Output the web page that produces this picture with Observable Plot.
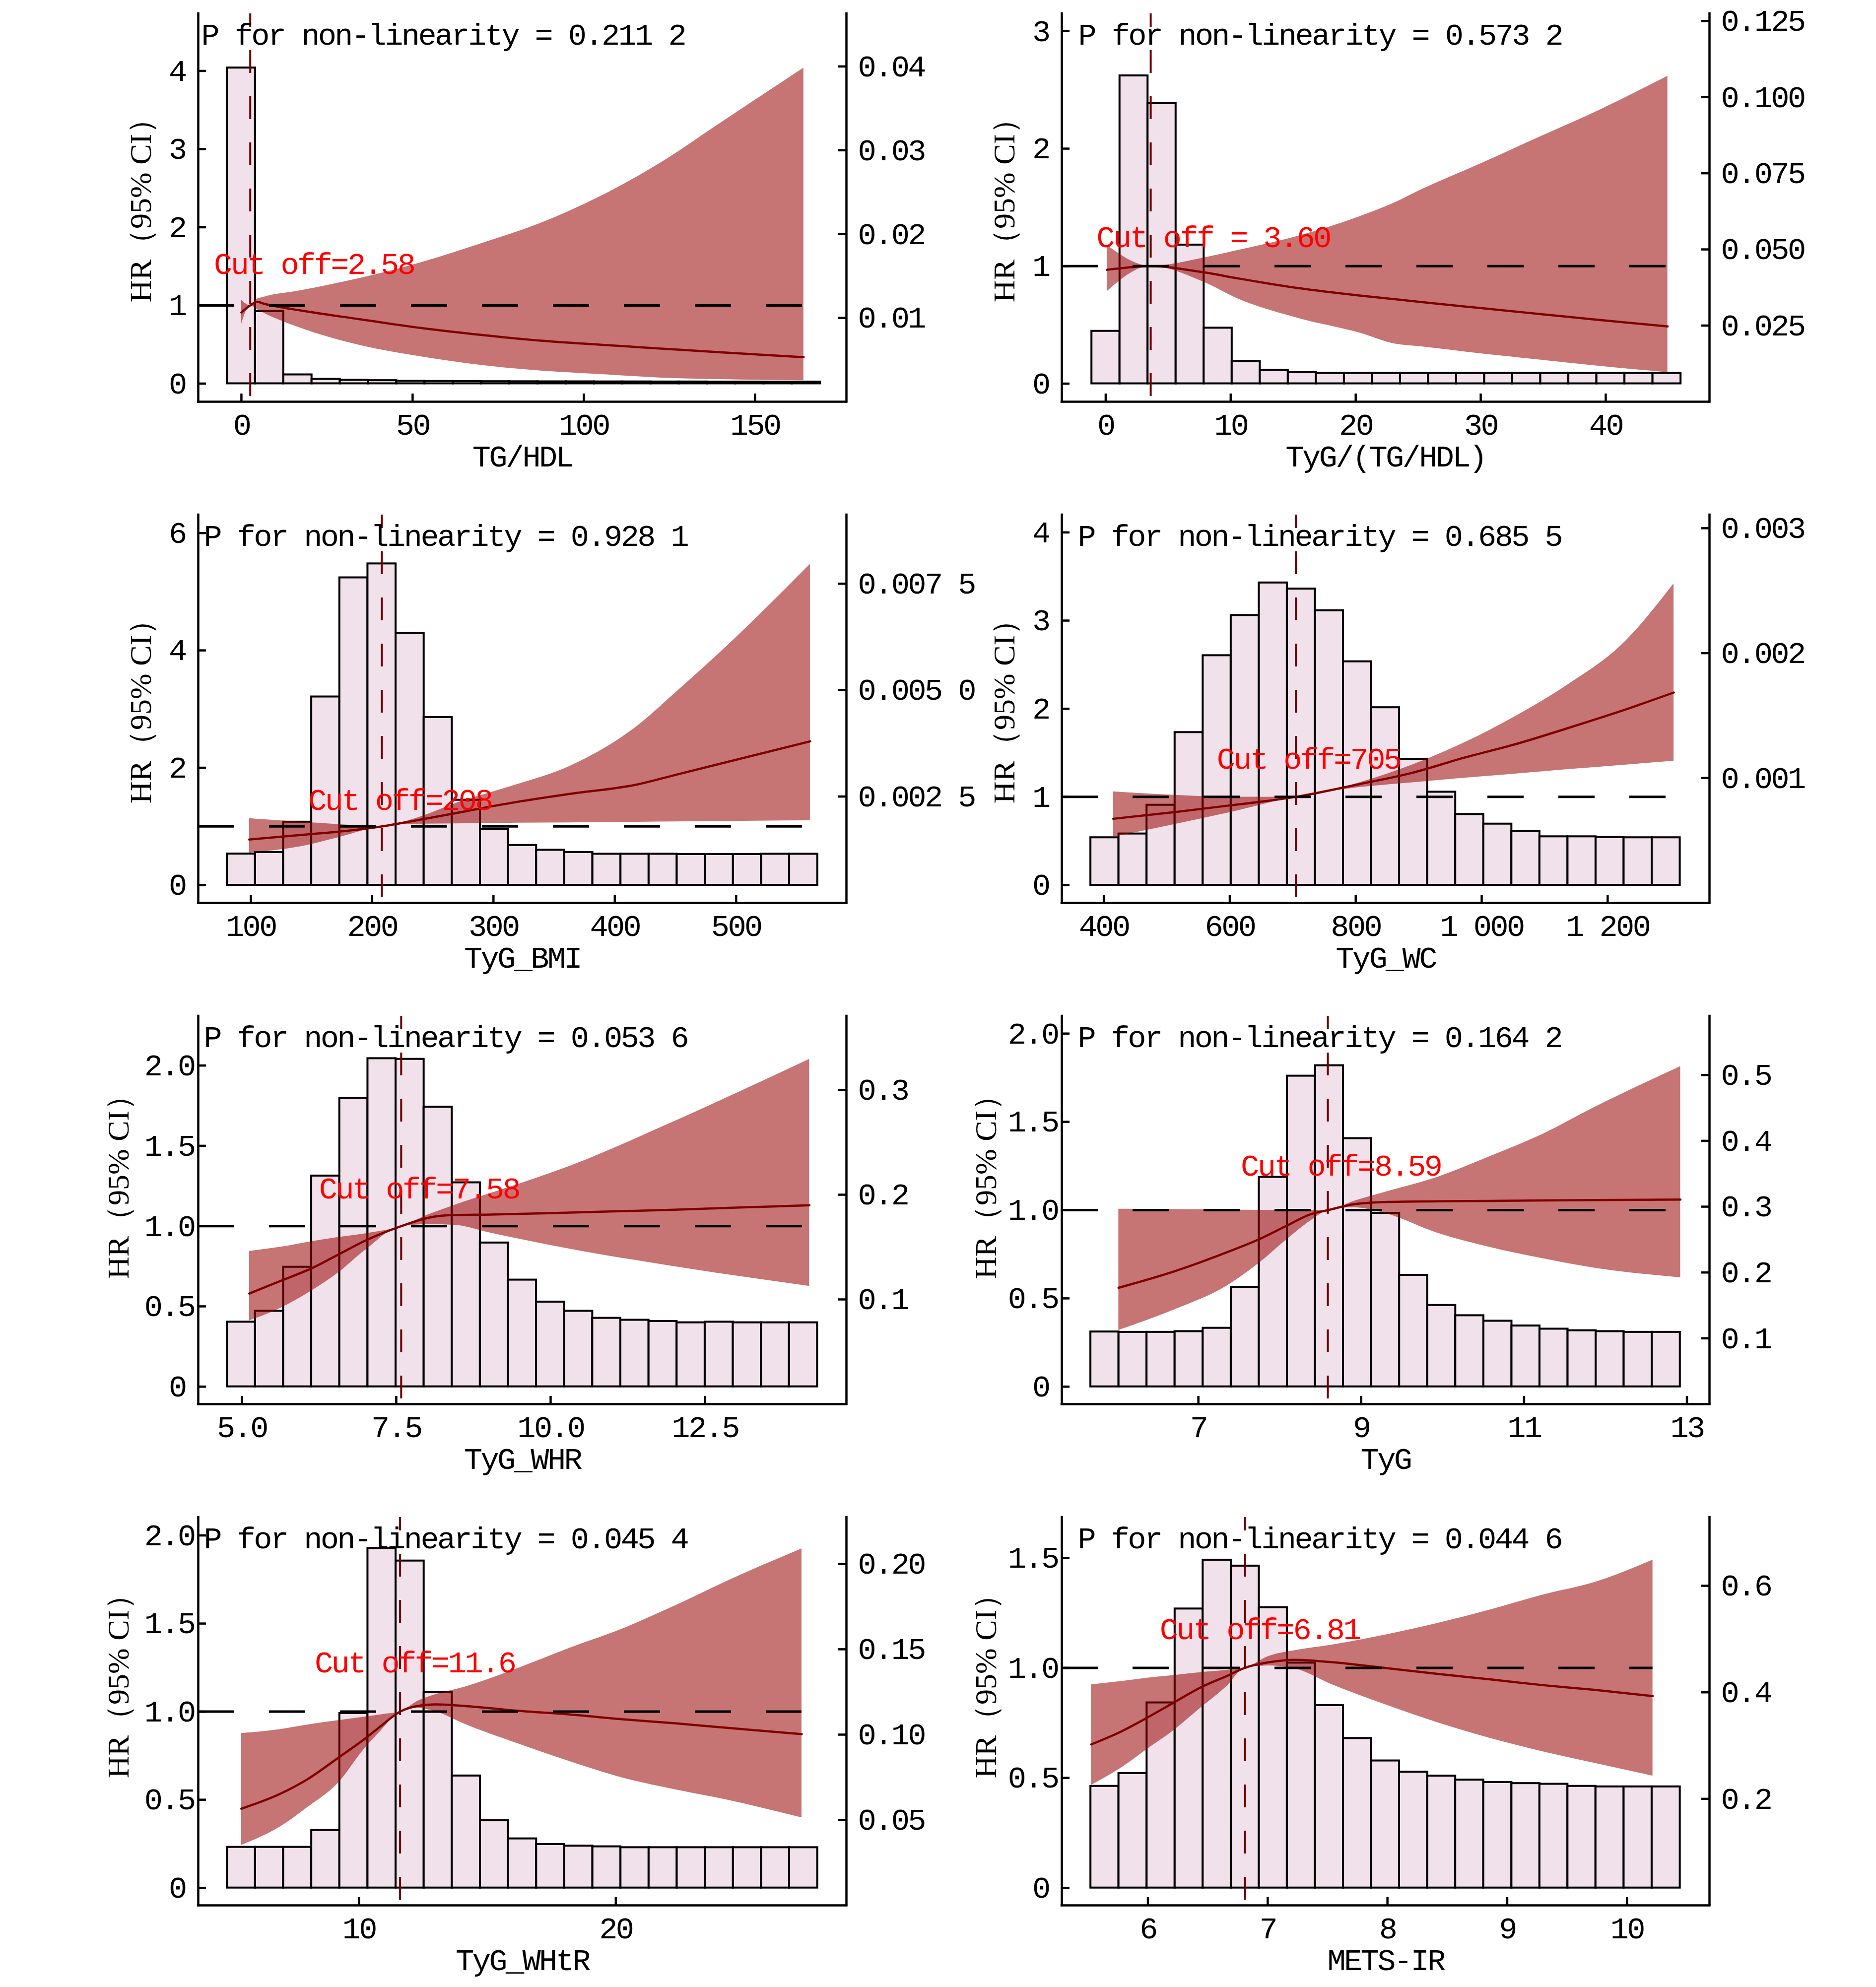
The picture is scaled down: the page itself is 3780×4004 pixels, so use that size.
<!DOCTYPE html>
<html><head><meta charset="utf-8">
<script src="https://cdn.jsdelivr.net/npm/d3@7"></script>
<script src="https://cdn.jsdelivr.net/npm/@observablehq/plot@0.6"></script>
<style>
html,body{margin:0;padding:0;background:#fff;}
#wrap{position:relative;width:3780px;height:4004px;overflow:hidden;background:#fff;}
#wrap > div{position:absolute;}
#wrap svg{overflow:visible;}
#wrap svg text{letter-spacing:-3.6px;}
#wrap svg g[font-family="Liberation Serif"] text{letter-spacing:0;}
</style></head><body><div id="wrap"></div>
<script>
// ---------- Panel 1: TG/HDL ----------
const p1_name = "TG/HDL";
const p1_p = "P for non-linearity = 0.211 2";
const p1_cut = 2.58;
const p1_cutLabel = "Cut off=2.58";
const p1_cutAt = [21.2, 1.526];
const p1_xDomain = [-12.6, 176.7];
const p1_yDomain = [-0.232, 4.733];
const p1_densTop = 0.0463;
const p1_xTicks = [0, 50, 100, 150];
const p1_xLabels = ["0", "50", "100", "150"];
const p1_yTicks = [0, 1, 2, 3, 4];
const p1_yLabels = ["0", "1", "2", "3", "4"];
const p1_dTicks = [0.01, 0.02, 0.03, 0.04];
const p1_dLabels = ["0.01", "0.02", "0.03", "0.04"];
const p1_edges = [-4.2, 4.05, 12.3, 20.55, 28.8, 37.05, 45.3, 53.55, 61.8, 70.05, 78.3, 86.55, 94.8, 103.05, 111.3, 119.55, 127.8, 136.05, 144.3, 152.55, 160.8, 169.05];
const p1_hist = [4.04, 0.924, 0.114, 0.057, 0.045, 0.04, 0.032, 0.03, 0.028, 0.027, 0.026, 0.025, 0.025, 0.024, 0.024, 0.023, 0.023, 0.022, 0.022, 0.022, 0.022];
const p1_x  = [0, 2.58, 4.5, 6.7, 17.2, 34.8, 52.3, 69.9, 87.5, 105, 122.6, 140.1, 164.2];
const p1_hr = [0.91, 1.0, 1.045, 1.02, 0.936, 0.822, 0.712, 0.623, 0.549, 0.497, 0.448, 0.399, 0.338];
const p1_lo = [0.76, 1.0, 0.95, 0.9, 0.712, 0.488, 0.346, 0.236, 0.163, 0.118, 0.073, 0.053, 0.04];
const p1_hi = [1.07, 1.0, 1.08, 1.11, 1.19, 1.35, 1.547, 1.79, 2.055, 2.4, 2.83, 3.34, 4.04];

// ---------- Panel 2: TyG/(TG/HDL) ----------
const p2_name = "TyG/(TG/HDL)";
const p2_p = "P for non-linearity = 0.573 2";
const p2_cut = 3.6;
const p2_cutLabel = "Cut off = 3.60";
const p2_cutAt = [8.6, 1.246];
const p2_xDomain = [-3.51, 48.3];
const p2_yDomain = [-0.154, 3.149];
const p2_densTop = 0.1274;
const p2_xTicks = [0, 10, 20, 30, 40];
const p2_xLabels = ["0", "10", "20", "30", "40"];
const p2_yTicks = [0, 1, 2, 3];
const p2_yLabels = ["0", "1", "2", "3"];
const p2_dTicks = [0.025, 0.05, 0.075, 0.1, 0.125];
const p2_dLabels = ["0.025", "0.050", "0.075", "0.100", "0.125"];
const p2_edges = [-1.12, 1.124, 3.368, 5.612, 7.856, 10.1, 12.344, 14.588, 16.832, 19.076, 21.32, 23.564, 25.808, 28.052, 30.296, 32.54, 34.784, 37.028, 39.272, 41.516, 43.76, 46.004];
const p2_hist = [0.447, 2.621, 2.386, 1.181, 0.474, 0.19, 0.116, 0.095, 0.089, 0.089, 0.089, 0.089, 0.089, 0.089, 0.089, 0.089, 0.089, 0.089, 0.089, 0.089, 0.089];
const p2_x  = [0.1, 3.6, 7.79, 10.67, 15.48, 20.29, 23.17, 25.1, 29.9, 34.7, 39.5, 44.95];
const p2_hr = [0.969, 1.0, 0.948, 0.894, 0.812, 0.75, 0.718, 0.696, 0.644, 0.593, 0.542, 0.487];
const p2_lo = [0.785, 1.0, 0.867, 0.718, 0.555, 0.433, 0.338, 0.317, 0.257, 0.203, 0.149, 0.095];
const p2_hi = [1.178, 1.0, 1.07, 1.137, 1.259, 1.422, 1.543, 1.644, 1.868, 2.099, 2.329, 2.618];

// ---------- Panel 3: TyG_BMI ----------
const p3_name = "TyG_BMI";
const p3_p = "P for non-linearity = 0.928 1";
const p3_cut = 208;
const p3_cutLabel = "Cut off=208";
const p3_cutAt = [223, 1.446];
const p3_xDomain = [56.7, 590.9];
const p3_yDomain = [-0.304, 6.31];
const p3_densTop = 0.009117;
const p3_xTicks = [100, 200, 300, 400, 500];
const p3_xLabels = ["100", "200", "300", "400", "500"];
const p3_yTicks = [0, 2, 4, 6];
const p3_yLabels = ["0", "2", "4", "6"];
const p3_dTicks = [0.0025, 0.005, 0.0075];
const p3_dLabels = ["0.002 5", "0.005 0", "0.007 5"];
const p3_edges = [80.5, 103.67, 126.84, 150.01, 173.18, 196.35, 219.52, 242.69, 265.86, 289.03, 312.2, 335.37, 358.54, 381.71, 404.88, 428.05, 451.22, 474.39, 497.56, 520.73, 543.9, 567.07];
const p3_hist = [0.533, 0.56, 1.076, 3.21, 5.24, 5.478, 4.293, 2.859, 1.45, 0.951, 0.679, 0.598, 0.56, 0.53, 0.53, 0.53, 0.525, 0.525, 0.525, 0.53, 0.53];
const p3_x  = [98.7, 146.3, 168, 208.2, 232.9, 276.2, 297.8, 319.5, 362.8, 419, 449.4, 492.6, 561];
const p3_hr = [0.777, 0.864, 0.902, 1.0, 1.09, 1.255, 1.34, 1.418, 1.554, 1.717, 1.875, 2.098, 2.45];
const p3_lo = [0.549, 0.68, 0.79, 1.0, 1.04, 1.05, 1.055, 1.06, 1.065, 1.075, 1.08, 1.09, 1.1];
const p3_hi = [1.136, 1.07, 1.04, 1.0, 1.12, 1.446, 1.58, 1.717, 2.027, 2.72, 3.27, 4.08, 5.47];

// ---------- Panel 4: TyG_WC ----------
const p4_name = "TyG_WC";
const p4_p = "P for non-linearity = 0.685 5";
const p4_cut = 705;
const p4_cutLabel = "Cut off=705";
const p4_cutAt = [725, 1.43];
const p4_xDomain = [333.3, 1361.7];
const p4_yDomain = [-0.2025, 4.199];
const p4_densTop = 0.003107;
const p4_xTicks = [400, 600, 800, 1000, 1200];
const p4_xLabels = ["400", "600", "800", "1 000", "1 200"];
const p4_yTicks = [0, 1, 2, 3, 4];
const p4_yLabels = ["0", "1", "2", "3", "4"];
const p4_dTicks = [0.001, 0.002, 0.003];
const p4_dLabels = ["0.001", "0.002", "0.003"];
const p4_edges = [379.1, 423.66, 468.22, 512.78, 557.34, 601.9, 646.46, 691.02, 735.58, 780.14, 824.7, 869.26, 913.82, 958.38, 1002.94, 1047.5, 1092.06, 1136.62, 1181.18, 1225.74, 1270.3, 1314.86];
const p4_hist = [0.539, 0.582, 0.908, 1.732, 2.604, 3.06, 3.429, 3.36, 3.114, 2.535, 2.014, 1.429, 1.056, 0.803, 0.694, 0.611, 0.55, 0.55, 0.542, 0.539, 0.539];
const p4_x  = [415, 512.6, 596, 704.4, 804.5, 887.9, 971.3, 1054.7, 1138, 1221.5, 1305];
const p4_hr = [0.752, 0.828, 0.9, 1.0, 1.143, 1.27, 1.443, 1.6, 1.783, 1.975, 2.184];
const p4_lo = [0.546, 0.69, 0.817, 1.0, 1.107, 1.161, 1.215, 1.262, 1.313, 1.36, 1.407];
const p4_hi = [1.06, 1.02, 0.998, 1.0, 1.16, 1.36, 1.613, 1.92, 2.28, 2.72, 3.42];

// ---------- Panel 5: TyG_WHR ----------
const p5_name = "TyG_WHR";
const p5_p = "P for non-linearity = 0.053 6";
const p5_cut = 7.58;
const p5_cutLabel = "Cut off=7.58";
const p5_cutAt = [7.87, 1.235];
const p5_xDomain = [4.294, 14.79];
const p5_yDomain = [-0.109, 2.308];
const p5_densTop = 0.3706;
const p5_xTicks = [5, 7.5, 10, 12.5];
const p5_xLabels = ["5.0", "7.5", "10.0", "12.5"];
const p5_yTicks = [0, 0.5, 1, 1.5, 2];
const p5_yLabels = ["0", "0.5", "1.0", "1.5", "2.0"];
const p5_dTicks = [0.1, 0.2, 0.3];
const p5_dLabels = ["0.1", "0.2", "0.3"];
const p5_edges = [4.762, 5.217, 5.672, 6.127, 6.582, 7.038, 7.493, 7.948, 8.403, 8.858, 9.313, 9.768, 10.223, 10.678, 11.133, 11.589, 12.044, 12.499, 12.954, 13.409, 13.864, 14.319];
const p5_hist = [0.403, 0.471, 0.745, 1.313, 1.797, 2.044, 2.04, 1.742, 1.271, 0.896, 0.665, 0.528, 0.471, 0.427, 0.415, 0.407, 0.399, 0.403, 0.399, 0.399, 0.399];
const p5_x  = [5.12, 5.63, 6.14, 6.56, 6.99, 7.585, 8.01, 8.435, 9.03, 10.31, 12.0, 14.19];
const p5_hr = [0.58, 0.659, 0.739, 0.822, 0.908, 1.0, 1.051, 1.069, 1.072, 1.084, 1.102, 1.13];
const p5_lo = [0.411, 0.49, 0.6, 0.709, 0.848, 1.0, 1.011, 1.007, 0.957, 0.858, 0.749, 0.626];
const p5_hi = [0.844, 0.87, 0.905, 0.93, 0.953, 1.0, 1.07, 1.13, 1.205, 1.374, 1.652, 2.04];

// ---------- Panel 6: TyG ----------
const p6_name = "TyG";
const p6_p = "P for non-linearity = 0.164 2";
const p6_cut = 8.59;
const p6_cutLabel = "Cut off=8.59";
const p6_cutAt = [8.75, 1.25];
const p6_xDomain = [5.323, 13.277];
const p6_yDomain = [-0.099, 2.099];
const p6_densTop = 0.5895;
const p6_xTicks = [7, 9, 11, 13];
const p6_xLabels = ["7", "9", "11", "13"];
const p6_yTicks = [0, 0.5, 1, 1.5, 2];
const p6_yLabels = ["0", "0.5", "1.0", "1.5", "2.0"];
const p6_dTicks = [0.1, 0.2, 0.3, 0.4, 0.5];
const p6_dLabels = ["0.1", "0.2", "0.3", "0.4", "0.5"];
const p6_edges = [5.677, 6.022, 6.366, 6.711, 7.056, 7.401, 7.745, 8.09, 8.435, 8.779, 9.124, 9.469, 9.813, 10.158, 10.503, 10.848, 11.192, 11.537, 11.882, 12.226, 12.571, 12.916];
const p6_hist = [0.311, 0.309, 0.309, 0.313, 0.332, 0.564, 1.187, 1.76, 1.819, 1.406, 0.983, 0.632, 0.461, 0.403, 0.372, 0.345, 0.327, 0.318, 0.313, 0.309, 0.309];
const p6_x  = [6.02, 6.71, 7.355, 7.742, 8.065, 8.387, 8.594, 8.903, 9.29, 9.935, 10.58, 11.23, 11.87, 12.92];
const p6_hr = [0.56, 0.654, 0.762, 0.834, 0.907, 0.978, 1.0, 1.033, 1.046, 1.05, 1.052, 1.055, 1.057, 1.06];
const p6_lo = [0.32, 0.437, 0.573, 0.699, 0.826, 0.943, 1.0, 1.015, 0.983, 0.871, 0.79, 0.726, 0.672, 0.618];
const p6_hi = [1.006, 1.004, 1.002, 1.0, 1.0, 1.0, 1.0, 1.05, 1.102, 1.187, 1.304, 1.431, 1.584, 1.814];

// ---------- Panel 7: TyG_WHtR ----------
const p7_name = "TyG_WHtR";
const p7_p = "P for non-linearity = 0.045 4";
const p7_cut = 11.6;
const p7_cutLabel = "Cut off=11.6";
const p7_cutAt = [12.17, 1.28];
const p7_xDomain = [3.742, 28.98];
const p7_yDomain = [-0.0995, 2.103];
const p7_densTop = 0.2273;
const p7_xTicks = [10, 20];
const p7_xLabels = ["10", "20"];
const p7_yTicks = [0, 0.5, 1, 1.5, 2];
const p7_yLabels = ["0", "0.5", "1.0", "1.5", "2.0"];
const p7_dTicks = [0.05, 0.1, 0.15, 0.2];
const p7_dLabels = ["0.05", "0.10", "0.15", "0.20"];
const p7_edges = [4.867, 5.962, 7.056, 8.151, 9.245, 10.34, 11.435, 12.529, 13.624, 14.718, 15.813, 16.908, 18.002, 19.097, 20.191, 21.286, 22.381, 23.475, 24.57, 25.664, 26.759, 27.853];
const p7_hist = [0.231, 0.231, 0.231, 0.327, 0.991, 1.927, 1.856, 1.11, 0.636, 0.382, 0.279, 0.247, 0.238, 0.234, 0.229, 0.229, 0.229, 0.229, 0.229, 0.229, 0.229];
const p7_x  = [5.42, 6.95, 7.98, 9.2, 10.22, 10.84, 11.6, 12.27, 12.99, 14.11, 16.16, 18.2, 20.25, 22.29, 24.34, 27.24];
const p7_hr = [0.449, 0.535, 0.615, 0.739, 0.845, 0.917, 1.0, 1.032, 1.041, 1.032, 1.005, 0.984, 0.957, 0.934, 0.908, 0.872];
const p7_lo = [0.242, 0.348, 0.455, 0.597, 0.792, 0.89, 1.0, 1.02, 1.0, 0.93, 0.82, 0.718, 0.625, 0.558, 0.499, 0.398];
const p7_hi = [0.877, 0.9, 0.925, 0.95, 0.97, 0.983, 1.0, 1.059, 1.098, 1.14, 1.245, 1.361, 1.47, 1.6, 1.742, 1.925];

// ---------- Panel 8: METS-IR ----------
const p8_name = "METS-IR";
const p8_p = "P for non-linearity = 0.044 6";
const p8_cut = 6.81;
const p8_cutLabel = "Cut off=6.81";
const p8_cutAt = [6.934, 1.175];
const p8_xDomain = [5.281, 10.689];
const p8_yDomain = [-0.0797, 1.685];
const p8_densTop = 0.7286;
const p8_xTicks = [6, 7, 8, 9, 10];
const p8_xLabels = ["6", "7", "8", "9", "10"];
const p8_yTicks = [0, 0.5, 1, 1.5];
const p8_yLabels = ["0", "0.5", "1.0", "1.5"];
const p8_dTicks = [0.2, 0.4, 0.6];
const p8_dLabels = ["0.2", "0.4", "0.6"];
const p8_edges = [5.522, 5.756, 5.991, 6.225, 6.459, 6.694, 6.928, 7.162, 7.396, 7.631, 7.865, 8.099, 8.334, 8.568, 8.802, 9.037, 9.271, 9.505, 9.739, 9.974, 10.208, 10.443];
const p8_hist = [0.4625, 0.521, 0.842, 1.269, 1.491, 1.464, 1.275, 1.023, 0.83, 0.68, 0.578, 0.527, 0.509, 0.491, 0.48, 0.475, 0.472, 0.4625, 0.46, 0.46, 0.46];
const p8_x  = [5.526, 5.785, 6.004, 6.224, 6.443, 6.662, 6.807, 7.013, 7.232, 7.539, 7.978, 8.417, 8.855, 9.294, 9.732, 10.215];
const p8_hr = [0.652, 0.713, 0.777, 0.845, 0.912, 0.964, 1.0, 1.026, 1.037, 1.026, 1.0, 0.973, 0.948, 0.922, 0.9, 0.872];
const p8_lo = [0.467, 0.549, 0.635, 0.72, 0.82, 0.919, 1.0, 1.01, 0.996, 0.924, 0.834, 0.752, 0.681, 0.62, 0.567, 0.509];
const p8_hi = [0.924, 0.94, 0.955, 0.967, 0.98, 0.99, 1.0, 1.054, 1.08, 1.105, 1.15, 1.203, 1.264, 1.332, 1.39, 1.491];

const yTitle = "HR（95% CI）";

// ---------- assemble ----------
const panels = [
  {name: p1_name, p: p1_p, cut: p1_cut, cutLabel: p1_cutLabel, cutAt: p1_cutAt, xDomain: p1_xDomain, yDomain: p1_yDomain, densTop: p1_densTop, xTicks: p1_xTicks, xLabels: p1_xLabels, yTicks: p1_yTicks, yLabels: p1_yLabels, dTicks: p1_dTicks, dLabels: p1_dLabels, edges: p1_edges, hist: p1_hist, x: p1_x, hr: p1_hr, lo: p1_lo, hi: p1_hi},
  {name: p2_name, p: p2_p, cut: p2_cut, cutLabel: p2_cutLabel, cutAt: p2_cutAt, xDomain: p2_xDomain, yDomain: p2_yDomain, densTop: p2_densTop, xTicks: p2_xTicks, xLabels: p2_xLabels, yTicks: p2_yTicks, yLabels: p2_yLabels, dTicks: p2_dTicks, dLabels: p2_dLabels, edges: p2_edges, hist: p2_hist, x: p2_x, hr: p2_hr, lo: p2_lo, hi: p2_hi},
  {name: p3_name, p: p3_p, cut: p3_cut, cutLabel: p3_cutLabel, cutAt: p3_cutAt, xDomain: p3_xDomain, yDomain: p3_yDomain, densTop: p3_densTop, xTicks: p3_xTicks, xLabels: p3_xLabels, yTicks: p3_yTicks, yLabels: p3_yLabels, dTicks: p3_dTicks, dLabels: p3_dLabels, edges: p3_edges, hist: p3_hist, x: p3_x, hr: p3_hr, lo: p3_lo, hi: p3_hi},
  {name: p4_name, p: p4_p, cut: p4_cut, cutLabel: p4_cutLabel, cutAt: p4_cutAt, xDomain: p4_xDomain, yDomain: p4_yDomain, densTop: p4_densTop, xTicks: p4_xTicks, xLabels: p4_xLabels, yTicks: p4_yTicks, yLabels: p4_yLabels, dTicks: p4_dTicks, dLabels: p4_dLabels, edges: p4_edges, hist: p4_hist, x: p4_x, hr: p4_hr, lo: p4_lo, hi: p4_hi},
  {name: p5_name, p: p5_p, cut: p5_cut, cutLabel: p5_cutLabel, cutAt: p5_cutAt, xDomain: p5_xDomain, yDomain: p5_yDomain, densTop: p5_densTop, xTicks: p5_xTicks, xLabels: p5_xLabels, yTicks: p5_yTicks, yLabels: p5_yLabels, dTicks: p5_dTicks, dLabels: p5_dLabels, edges: p5_edges, hist: p5_hist, x: p5_x, hr: p5_hr, lo: p5_lo, hi: p5_hi},
  {name: p6_name, p: p6_p, cut: p6_cut, cutLabel: p6_cutLabel, cutAt: p6_cutAt, xDomain: p6_xDomain, yDomain: p6_yDomain, densTop: p6_densTop, xTicks: p6_xTicks, xLabels: p6_xLabels, yTicks: p6_yTicks, yLabels: p6_yLabels, dTicks: p6_dTicks, dLabels: p6_dLabels, edges: p6_edges, hist: p6_hist, x: p6_x, hr: p6_hr, lo: p6_lo, hi: p6_hi},
  {name: p7_name, p: p7_p, cut: p7_cut, cutLabel: p7_cutLabel, cutAt: p7_cutAt, xDomain: p7_xDomain, yDomain: p7_yDomain, densTop: p7_densTop, xTicks: p7_xTicks, xLabels: p7_xLabels, yTicks: p7_yTicks, yLabels: p7_yLabels, dTicks: p7_dTicks, dLabels: p7_dLabels, edges: p7_edges, hist: p7_hist, x: p7_x, hr: p7_hr, lo: p7_lo, hi: p7_hi},
  {name: p8_name, p: p8_p, cut: p8_cut, cutLabel: p8_cutLabel, cutAt: p8_cutAt, xDomain: p8_xDomain, yDomain: p8_yDomain, densTop: p8_densTop, xTicks: p8_xTicks, xLabels: p8_xLabels, yTicks: p8_yTicks, yLabels: p8_yLabels, dTicks: p8_dTicks, dLabels: p8_dLabels, edges: p8_edges, hist: p8_hist, x: p8_x, hr: p8_hr, lo: p8_lo, hi: p8_hi}
];

// layout / style
const W = 1890, H = 1010, MT = 27, FH = 782;
const PTEXT_INSET = [6, 33, 11, 32, 11, 32, 11, 32];
const YTITLE_DX = [-115, -115, -115, -115, -160, -152, -160, -152];
const YTITLE_DY = [-10, -10, -10, -10, -62, -62, -66, -66];
const BAR_FILL = "#F1E1EA", BAND = "#960000", LINE = "#800000", CUTC = "#6E0000", RED = "#FF0000";
const MONO = "'Liberation Mono','DejaVu Sans Mono',monospace";
const AXW = 4.5, TICK = 16;

const wrap = document.getElementById("wrap");
panels.forEach((p, k) => {
  const col = k % 2, row = Math.floor(k / 2);
  const ml = col === 0 ? 399 : 249;
  const fw = col === 0 ? 1306 : 1305;
  const mr = W - ml - fw, mb = H - MT - FH;
  const bins = p.hist.map((h, i) => ({x1: p.edges[i], x2: p.edges[i + 1], h}));
  const curve = p.x.map((x, i) => ({x, hr: p.hr[i], lo: p.lo[i], hi: p.hi[i]}));
  const dens = d3.scaleLinear([0, p.densTop], p.yDomain);
  const dPos = p.dTicks.map(dens);
  const xMax = d3.max(p.x);
  const yLab = (d) => p.yLabels[p.yTicks.indexOf(d)];
  const yInt = p.yTicks.filter((d) => !yLab(d).includes("."));
  const yDec = p.yTicks.filter((d) => yLab(d).includes("."));
  const chart = Plot.plot({
    width: W, height: H,
    marginLeft: ml, marginRight: mr, marginTop: MT, marginBottom: mb,
    style: {fontFamily: MONO, fontSize: "62px", background: "transparent", maxWidth: "none", overflow: "visible", color: "black"},
    x: {domain: p.xDomain},
    y: {domain: p.yDomain},
    marks: [
      Plot.rect(bins, {x1: "x1", x2: "x2", y1: 0, y2: "h", fill: BAR_FILL, stroke: "black", strokeWidth: 4}),
      Plot.areaY(curve, {x: "x", y1: "lo", y2: "hi", fill: BAND, fillOpacity: 0.545, curve: "monotone-x"}),
      Plot.line(curve, {x: "x", y: "hr", stroke: LINE, strokeWidth: 4.5, curve: "monotone-x"}),
      Plot.ruleY([1], {x1: p.xDomain[0], x2: xMax, stroke: "black", strokeWidth: 5, strokeDasharray: "73,70"}),
      Plot.ruleX([p.cut], {stroke: CUTC, strokeWidth: 4, strokeDasharray: "46,47", strokeDashoffset: 19}),
      // frame: left, right, bottom (no top)
      Plot.ruleX([p.xDomain[0], p.xDomain[1]], {stroke: "black", strokeWidth: AXW, strokeLinecap: "square"}),
      Plot.ruleY([p.yDomain[0]], {stroke: "black", strokeWidth: AXW, strokeLinecap: "square"}),
      // inward ticks
      Plot.ruleY(p.yTicks, {insetRight: fw - TICK, stroke: "black", strokeWidth: AXW}),
      Plot.ruleY(dPos, {insetLeft: fw - TICK, stroke: "black", strokeWidth: AXW}),
      Plot.ruleX(p.xTicks, {insetTop: FH - TICK, stroke: "black", strokeWidth: AXW}),
      // tick labels
      Plot.axisY(yInt, {anchor: "left", tickSize: 0, tickPadding: 26, label: null, tickFormat: yLab}),
      Plot.axisY(yDec, {anchor: "left", tickSize: 0, tickPadding: 8, label: null, tickFormat: yLab}),
      Plot.axisY(dPos, {anchor: "right", tickSize: 0, tickPadding: 23, label: null, tickFormat: (d) => p.dLabels[dPos.indexOf(d)]}),
      Plot.axisX(p.xTicks, {anchor: "bottom", tickSize: 0, tickPadding: 22, label: null, tickFormat: (d) => p.xLabels[p.xTicks.indexOf(d)]}),
      // titles / annotations
      Plot.text([p.name], {frameAnchor: "bottom", dy: 130, text: (d) => d}),
      Plot.text([yTitle], {frameAnchor: "left", dx: YTITLE_DX[k], dy: YTITLE_DY[k], rotate: -90, textAnchor: "middle", lineAnchor: "middle", text: (d) => d, fontFamily: "Liberation Serif", fontSize: 62}),
      Plot.text([p.p], {frameAnchor: "top-left", dx: PTEXT_INSET[k], dy: 43, textAnchor: "start", lineAnchor: "middle", text: (d) => d}),
      Plot.text([{x: p.cutAt[0], y: p.cutAt[1], t: p.cutLabel}], {x: "x", y: "y", text: "t", fill: RED})
    ]
  });
  const holder = document.createElement("div");
  holder.style.left = (col * W) + "px";
  holder.style.top = (row * H) + "px";
  holder.appendChild(chart);
  wrap.appendChild(holder);
});
</script></body></html>
